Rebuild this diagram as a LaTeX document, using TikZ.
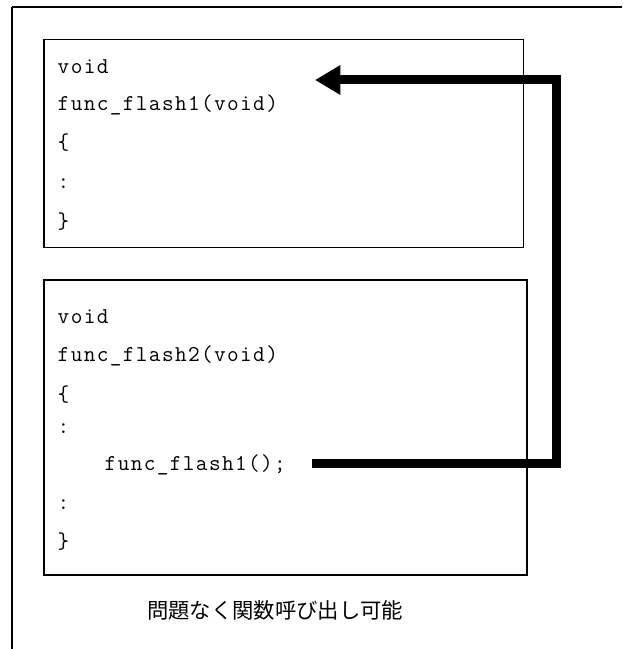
\documentclass[tikz,border=0pt]{standalone}
\usepackage{fontspec}
\usetikzlibrary{arrows.meta}
\newfontfamily\codefont[LetterSpace=6]{Latin Modern Mono}
\newfontfamily\cjk{Noto Sans CJK JP}

\tikzset{every picture/.style={line width=1.1pt}}
\tikzset{
  codeline/.style={anchor=base west, inner sep=0pt, font=\codefont\fontsize{17}{17}\selectfont},
  codebox/.style={line width=1.1pt},
  callarrow/.style={line width=6.75pt, line join=miter, -{Triangle[length=19pt,width=21pt]}}
}

\begin{document}
\begin{tikzpicture}[x=0.75pt,y=0.75pt,yscale=-1,xscale=1]
	\useasboundingbox (0,0) rectangle (622,649);
	
	%Outer frame (top and left only)
	\draw (12,7) -- (622,7) ;
	\draw (12,7) -- (12,649) ;
	
	%Box of func_flash1
	\draw [codebox] (44,39.5) rectangle (523.5,247.5) ;
	%Box of func_flash2
	\draw [codebox] (44,280) rectangle (527,575) ;
	
	% Text Node
	\node (a1) at (57,74) [codeline] {void};
	\node (a2) at (57,111) [codeline] {func\_flash1(void)};
	\node (a3) at (57,150) [codeline] {\{};
	\node (a4) at (57,188) [codeline] {:};
	\node (a5) at (57,228) [codeline] {\}};
	
	% Text Node
	\node (b1) at (57,323) [codeline] {void};
	\node (b2) at (57,361) [codeline] {func\_flash2(void)};
	\node (b3) at (57,401) [codeline] {\{};
	\node (b4) at (57,433) [codeline] {:};
	\node (b5) at (104,470) [codeline] {func\_flash1();};
	\node (b6) at (57,509) [codeline] {:};
	\node (b7) at (57,548) [codeline] {\}};
	
	% Text Node
	\node (note) at (275,610) [inner sep=0pt, font=\cjk\fontsize{16}{16}\selectfont] {問題なく関数呼び出し可能};
	
	%Call arrow
	\coordinate (callend) at (312,463);
	\coordinate (target) at (315,80);
	\draw [callarrow] (callend) -- ++(244.5,0) |- (target) ;
	
\end{tikzpicture}
\end{document}
